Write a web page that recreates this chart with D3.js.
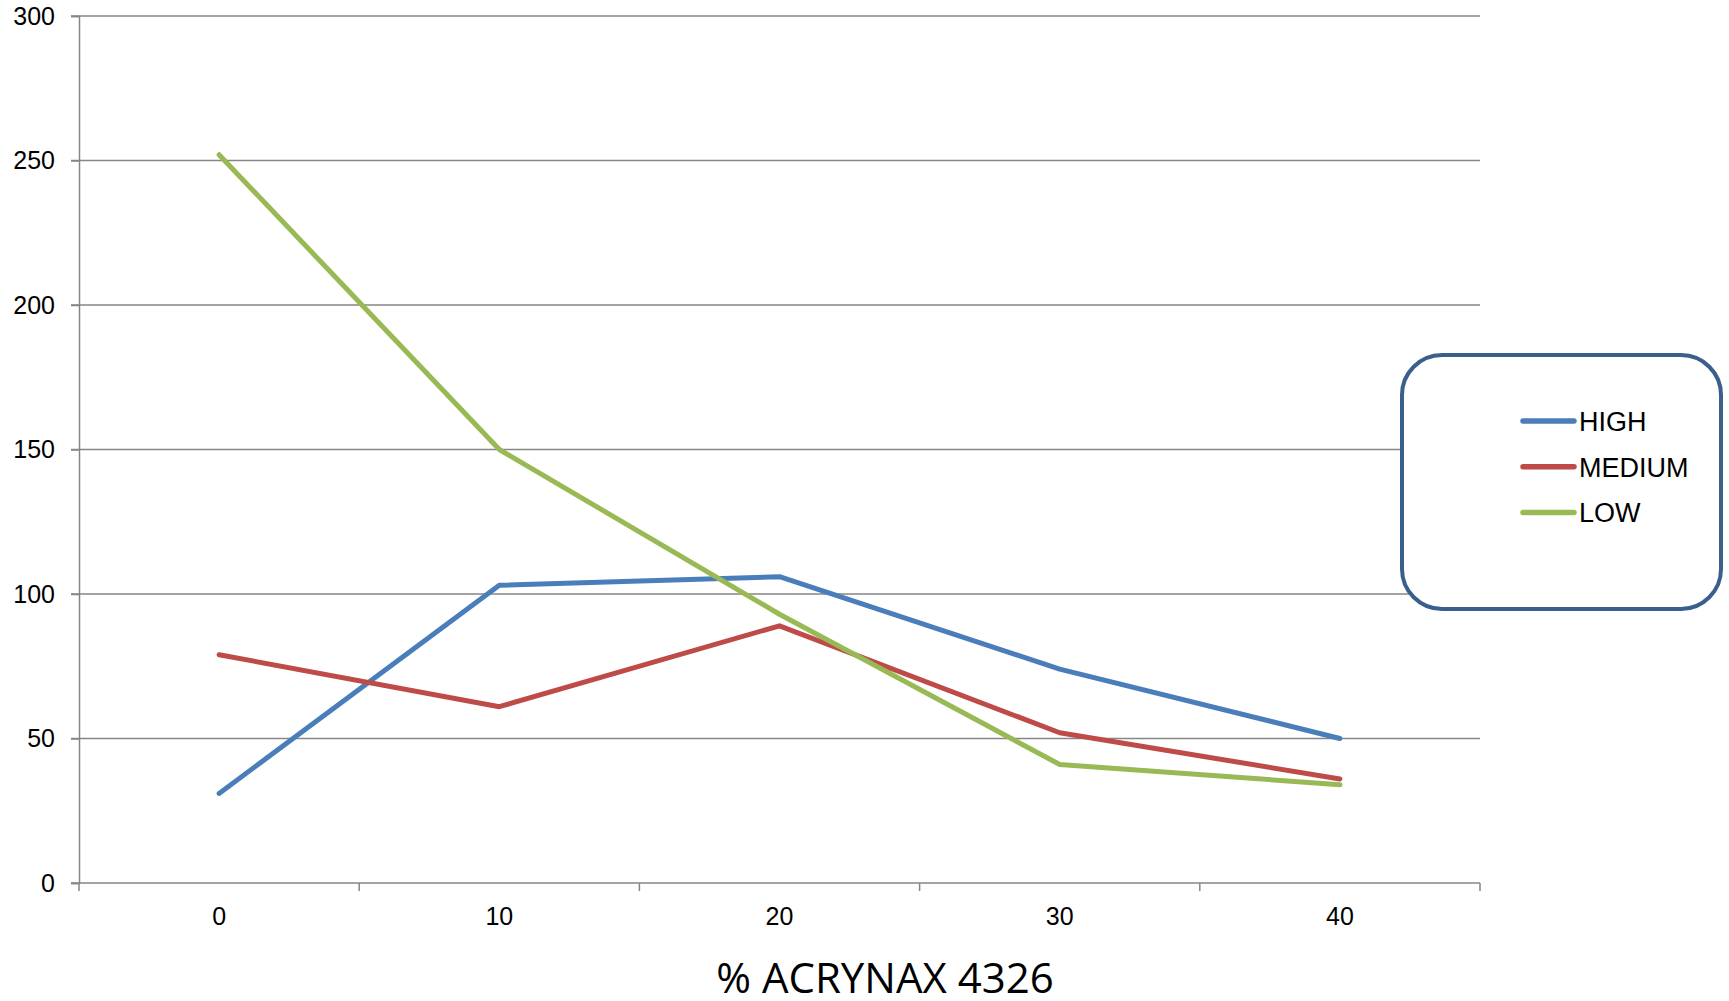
<!DOCTYPE html>
<html>
<head>
<meta charset="utf-8">
<script src="https://cdn.jsdelivr.net/npm/d3@7"></script>
<style>
	body { margin: 0; background: #fff; }
	#chart { width: 1729px; height: 1001px; }
	text { font-family: "Liberation Sans", Arial, sans-serif; fill: #000; }
</style>
</head>
<body>
<div id="chart"></div>
<script>
var categories = ["0", "10", "20", "30", "40"];
var seriesNames = ["HIGH", "MEDIUM", "LOW"];
var highValues = [31, 103, 106, 74, 50];
var mediumValues = [79, 61, 89, 52, 36];
var lowValues = [252, 150, 93, 41, 34];
var yTicks = [0, 50, 100, 150, 200, 250, 300];
var colors = ["#4a7ebb", "#be4b48", "#98b954"];

var series = [highValues, mediumValues, lowValues];

var width = 1729;
var height = 1001;
var plotLeft = 79, plotRight = 1480, plotTop = 16, plotBottom = 883;

var svg = d3.select("#chart")
	.append("svg")
	.attr("width", width)
	.attr("height", height);

var x = d3.scaleBand()
	.domain(categories)
	.range([plotLeft, plotRight])
	.padding(0);

var y = d3.scaleLinear()
	.domain([0, 300])
	.range([plotBottom, plotTop]);

// grid lines
svg.append("g")
	.selectAll("line")
	.data(yTicks.filter(function(d) { return d > 0; }))
	.enter()
	.append("line")
	.attr("x1", plotLeft - 8)
	.attr("x2", plotRight)
	.attr("y1", function(d) { return y(d); })
	.attr("y2", function(d) { return y(d); })
	.attr("stroke", "#868686")
	.attr("stroke-width", 1.5);

// y axis
var yAxis = d3.axisLeft(y)
	.tickValues(yTicks)
	.tickSize(8)
	.tickPadding(16);
var gy = svg.append("g")
	.attr("transform", "translate(" + plotLeft + ",0)")
	.call(yAxis);
gy.select(".domain").attr("stroke", "#868686").attr("stroke-width", 1.5);
gy.selectAll(".tick line").attr("stroke", "#868686").attr("stroke-width", 1.5);
gy.selectAll(".tick text")
	.attr("font-size", 25)
	.attr("font-family", "Liberation Sans, Arial, sans-serif");

// x axis: ticks at band edges, labels in the middle
var xAxis = d3.axisBottom(x)
	.tickSize(0)
	.tickPadding(24);
var gx = svg.append("g")
	.attr("transform", "translate(0," + plotBottom + ")")
	.call(xAxis);
gx.select(".domain").remove();
gx.selectAll(".tick text")
	.attr("font-size", 25)
	.attr("font-family", "Liberation Sans, Arial, sans-serif");

var edges = categories.map(function(c) { return x(c); }).concat([plotRight]);
svg.append("g")
	.selectAll("line")
	.data(edges)
	.enter()
	.append("line")
	.attr("x1", function(d) { return d; })
	.attr("x2", function(d) { return d; })
	.attr("y1", plotBottom)
	.attr("y2", plotBottom + 8)
	.attr("stroke", "#868686")
	.attr("stroke-width", 1.5);

svg.append("line")
	.attr("x1", plotLeft - 8)
	.attr("x2", plotRight)
	.attr("y1", plotBottom)
	.attr("y2", plotBottom)
	.attr("stroke", "#868686")
	.attr("stroke-width", 1.5);

// lines
var line = d3.line()
	.x(function(d, i) { return x(categories[i]) + x.bandwidth() / 2; })
	.y(function(d) { return y(d); });

svg.selectAll("path.series")
	.data(series)
	.enter()
	.append("path")
	.attr("class", "series")
	.attr("d", line)
	.attr("fill", "none")
	.attr("stroke", function(d, i) { return colors[i]; })
	.attr("stroke-width", 5)
	.attr("stroke-linejoin", "round")
	.attr("stroke-linecap", "round");

// x title
svg.append("text")
	.attr("x", 885)
	.attr("y", 993)
	.attr("text-anchor", "middle")
	.attr("font-size", 42)
	.style("font-family", "'Open Sans', sans-serif")
	.text("% ACRYNAX 4326");

// legend
var legend = svg.append("g");
legend.append("rect")
	.attr("x", 1402)
	.attr("y", 355)
	.attr("width", 319)
	.attr("height", 254)
	.attr("rx", 40)
	.attr("fill", "#fff")
	.attr("stroke", "#3b5f8c")
	.attr("stroke-width", 4);

var items = legend.selectAll("g.item")
	.data(seriesNames)
	.enter()
	.append("g")
	.attr("class", "item")
	.attr("transform", function(d, i) { return "translate(0," + (421 + i * 45.7) + ")"; });

items.append("line")
	.attr("x1", 1523)
	.attr("x2", 1574)
	.attr("stroke", function(d, i) { return colors[i]; })
	.attr("stroke-width", 5.5)
	.attr("stroke-linecap", "round");

items.append("text")
	.attr("x", 1579)
	.attr("y", 10)
	.attr("font-size", 27)
	.text(function(d) { return d; });
</script>
</body>
</html>
